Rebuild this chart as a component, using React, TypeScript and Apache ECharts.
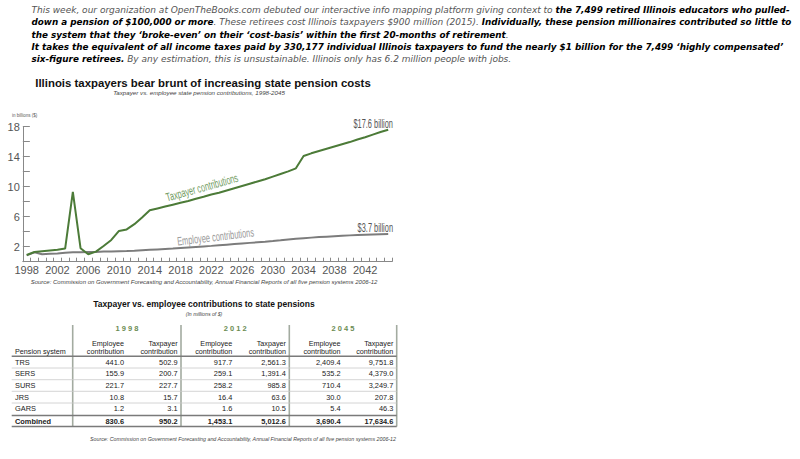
import React, { useEffect, useRef } from "react";
import * as echarts from "echarts";

// ---------- DATA ----------
const years: string[] = Array.from({ length: 48 }, (_, i) => String(1998 + i));
const taxpayerBillions = [
  0.9, 1.3, 1.4, 1.5, 1.6, 1.75, 9.3, 1.8, 1.0, 1.35, 2.1, 2.9, 4.1, 4.3, 5.0, 5.9,
  6.85, 7.1, 7.35, 7.6, 7.85, 8.1, 8.4, 8.65, 8.95, 9.2, 9.5, 9.8, 10.1, 10.4, 10.7, 11.0,
  11.35, 11.7, 12.05, 12.45, 14.1, 14.45, 14.75, 15.05, 15.35, 15.65, 15.95, 16.3, 16.6, 16.95, 17.3, 17.6,
];
const employeeBillions = [
  0.85, 1.25, 1.0, 1.05, 1.1, 1.2, 1.25, 1.25, 1.3, 1.3, 1.35, 1.35, 1.4, 1.42, 1.45, 1.52,
  1.58, 1.64, 1.7, 1.76, 1.83, 1.9, 1.97, 2.04, 2.11, 2.19, 2.27, 2.35, 2.43, 2.51, 2.59, 2.67,
  2.76, 2.86, 2.97, 3.07, 3.14, 3.21, 3.28, 3.34, 3.4, 3.46, 3.51, 3.56, 3.6, 3.64, 3.67, 3.69,
];
const yTickLabels = [2, 6, 10, 14, 18];

const tableSystems = ["TRS", "SERS", "SURS", "JRS", "GARS", "Combined"];
const tableYears = ["1998", "2012", "2045"];
const employee1998 = [441.0, 155.9, 221.7, 10.8, 1.2, 830.6];
const taxpayer1998 = [502.9, 200.7, 227.7, 15.7, 3.1, 950.2];
const employee2012 = [917.7, 259.1, 258.2, 16.4, 1.6, 1453.1];
const taxpayer2012 = [2561.3, 1391.4, 985.8, 63.6, 10.5, 5012.6];
const employee2045 = [2409.4, 535.2, 710.4, 30.0, 5.4, 3690.4];
const taxpayer2045 = [9751.8, 4379.0, 3249.7, 207.8, 46.3, 17634.6];

const paragraphLines: [string, string][][] = [
  [["n", "This week, our organization at OpenTheBooks.com debuted our interactive info mapping platform giving context to "], ["b", "the 7,499 retired Illinois educators who pulled-"]],
  [["b", "down a pension of $100,000 or more"], ["n", ". These retirees cost Illinois taxpayers $900 million (2015). "], ["b", "Individually, these pension millionaires contributed so little to"]],
  [["b", "the system that they \u2018broke-even\u2019 on their \u2018cost-basis\u2019 within the first 20-months of retirement"], ["n", "."]],
  [["b", "It takes the equivalent of all income taxes paid by 330,177 individual Illinois taxpayers to fund the nearly $1 billion for the 7,499 \u2018highly compensated\u2019"]],
  [["b", "six-figure retirees."], ["n", " By any estimation, this is unsustainable. Illinois only has 6.2 million people with jobs."]],
];

// ---------- STYLE ----------
const SANS = "'Liberation Sans', Arial, sans-serif";
const VERD = "'DejaVu Sans', Verdana, sans-serif";
const GREEN = "#4c7b38";
const GRAY = "#7c7c7c";

const fmt = (v: number) =>
  v.toLocaleString("en-US", { minimumFractionDigits: 1, maximumFractionDigits: 1 });

function buildGraphics() {
  const g: any[] = [];
  // paragraph
  paragraphLines.forEach((segs, i) => {
    g.push({
      type: "text",
      x: 31.5,
      y: 10 + i * 12.3,
      style: {
        text: segs.map(([k, t]) => `{${k}|${t}}`).join(""),
        textVerticalAlign: "middle",
        rich: {
          n: { fontFamily: VERD, fontSize: 9, fontStyle: "italic", fill: "#555" },
          b: { fontFamily: VERD, fontSize: 8.8, fontStyle: "italic", fontWeight: "bold", fill: "#000" },
        },
      },
    });
  });

  // chart titles
  g.push({
    type: "text", x: 203, y: 83,
    style: { text: "Illinois taxpayers bear brunt of increasing state pension costs", font: `bold 11.4px ${SANS}`, fill: "#111", textAlign: "center", textVerticalAlign: "middle" },
  });
  g.push({
    type: "text", x: 199, y: 92.5,
    style: { text: "Taxpayer vs. employee state pension contributions, 1998-2045", font: `italic 6.2px ${SANS}`, fill: "#444", textAlign: "center", textVerticalAlign: "middle" },
  });
  g.push({
    type: "text", x: 12, y: 115, scaleX: 0.75,
    style: { text: "in billions ($)", font: `6px ${SANS}`, fill: "#555", textVerticalAlign: "middle" },
  });
  g.push({
    type: "text", x: 393, y: 123, scaleX: 0.57,
    style: { text: "$17.6 billion", font: `13px ${SANS}`, fill: "#555", textAlign: "right", textVerticalAlign: "middle" },
  });
  g.push({
    type: "text", x: 393, y: 226.7, scaleX: 0.57,
    style: { text: "$3.7 billion", font: `13px ${SANS}`, fill: "#555", textAlign: "right", textVerticalAlign: "middle" },
  });
  g.push({
    type: "text", x: 202, y: 187.5, rotation: 0.275, scaleX: 0.62,
    style: { text: "Taxpayer contributions", font: `12px ${SANS}`, fill: "#6f9a5e", textAlign: "center", textVerticalAlign: "middle" },
  });
  g.push({
    type: "text", x: 215.5, y: 236.8, rotation: 0.12, scaleX: 0.62,
    style: { text: "Employee contributions", font: `12px ${SANS}`, fill: "#9a9a9a", textAlign: "center", textVerticalAlign: "middle" },
  });
  g.push({
    type: "text", x: 204, y: 282,
    style: { text: "Source: Commission on Government Forecasting and Accountability, Annual Financial Reports of all five pension systems 2006-12", font: `italic 6px ${SANS}`, fill: "#444", textAlign: "center", textVerticalAlign: "middle" },
  });

  // table
  const tLeft = 11.7;
  const tRight = 396.7;
  g.push({
    type: "text", x: 204, y: 304.3,
    style: { text: "Taxpayer vs. employee contributions to state pensions", font: `bold 8.5px ${SANS}`, fill: "#111", textAlign: "center", textVerticalAlign: "middle" },
  });
  g.push({
    type: "text", x: 204, y: 314,
    style: { text: "(In millions of $)", font: `italic 5.2px ${SANS}`, fill: "#444", textAlign: "center", textVerticalAlign: "middle" },
  });
  const sepX = [72.7, 181, 289.3, 396.7];
  sepX.forEach((x) => {
    g.push({ type: "line", shape: { x1: x, y1: 325, x2: x, y2: 426.5 }, style: { stroke: "#a3aba0", lineWidth: 1.6 } });
  });
  const hLines: [number, string, number][] = [
    [356.3, "#7a7a7a", 1.5],
    [368, "#c9c9c9", 0.8],
    [379.7, "#c9c9c9", 0.8],
    [391.3, "#c9c9c9", 0.8],
    [403, "#c9c9c9", 0.8],
    [415.5, "#7a7a7a", 1.5],
    [426.5, "#7a7a7a", 1.5],
  ];
  hLines.forEach(([y, c, w]) => {
    g.push({ type: "line", shape: { x1: tLeft, y1: y, x2: tRight, y2: y }, style: { stroke: c, lineWidth: w } });
  });
  tableYears.forEach((yr, i) => {
    g.push({
      type: "text", x: (sepX[i] + sepX[i + 1]) / 2, y: 328.5,
      style: { text: yr.split("").join(" "), font: `bold 7.5px ${SANS}`, fill: "#6b8c52", textAlign: "center", textVerticalAlign: "middle" },
    });
  });
  const colRights: number[] = [];
  for (let gi = 0; gi < 3; gi++) {
    colRights.push(sepX[gi] + 51.3, sepX[gi + 1] - 3.4);
  }
  const colHeads = ["Employee", "Taxpayer"];
  colRights.forEach((xr, ci) => {
    g.push({
      type: "text", x: xr, y: 343,
      style: { text: colHeads[ci % 2], font: `7.2px ${SANS}`, fill: "#222", textAlign: "right", textVerticalAlign: "middle" },
    });
    g.push({
      type: "text", x: xr, y: 351.3,
      style: { text: "contribution", font: `7.2px ${SANS}`, fill: "#222", textAlign: "right", textVerticalAlign: "middle" },
    });
  });
  g.push({
    type: "text", x: 15, y: 351.3,
    style: { text: "Pension system", font: `7.2px ${SANS}`, fill: "#222", textVerticalAlign: "middle" },
  });
  const cols = [employee1998, taxpayer1998, employee2012, taxpayer2012, employee2045, taxpayer2045];
  tableSystems.forEach((sys, ri) => {
    const y = 362.3 + ri * 11.6 + (ri === 5 ? 1 : 0);
    const bold = ri === 5 ? "bold " : "";
    g.push({
      type: "text", x: 15, y,
      style: { text: sys, font: `${bold}7.4px ${SANS}`, fill: "#222", textVerticalAlign: "middle" },
    });
    cols.forEach((col, ci) => {
      g.push({
        type: "text", x: colRights[ci], y,
        style: { text: fmt(col[ri]), font: `${bold}7.4px ${SANS}`, fill: "#222", textAlign: "right", textVerticalAlign: "middle" },
      });
    });
  });
  g.push({
    type: "text", x: 396, y: 439,
    style: { text: "Source: Commission on Government Forecasting and Accountability, Annual Financial Reports of all five pension systems 2006-12", font: `italic 5.3px ${SANS}`, fill: "#444", textAlign: "right", textVerticalAlign: "middle" },
  });
  return g;
}

export default function App() {
  const ref = useRef<HTMLDivElement>(null);
  useEffect(() => {
    if (!ref.current) return;
    const chart = echarts.init(ref.current, undefined, { renderer: "svg" });
    chart.setOption({
      animation: false,
      backgroundColor: "#fff",
      grid: { left: 22.85, width: 369.2, top: 126.7, height: 135 },
      xAxis: {
        type: "category",
        data: years,
        boundaryGap: true,
        axisLine: { show: true, lineStyle: { color: "#888", width: 1 } },
        axisTick: { show: true, inside: true, length: 4, interval: 0, lineStyle: { color: "#888" } },
        axisLabel: { interval: 3, fontFamily: SANS, fontSize: 11, color: "#555", margin: 3 },
        splitLine: { show: false },
      },
      yAxis: {
        type: "value",
        min: 0,
        max: 18,
        interval: 2,
        axisLine: { show: true, lineStyle: { color: "#888", width: 1 } },
        axisTick: { show: true, inside: true, length: 7, lineStyle: { color: "#888" } },
        axisLabel: {
          fontFamily: SANS,
          fontSize: 11,
          color: "#555",
          margin: 3,
          formatter: (v: number) => (yTickLabels.includes(v) ? String(v) : ""),
        },
        splitLine: { show: false },
      },
      series: [
        {
          name: "Employee contributions",
          type: "line",
          data: employeeBillions,
          symbol: "none",
          lineStyle: { color: GRAY, width: 2 },
          z: 2,
        },
        {
          name: "Taxpayer contributions",
          type: "line",
          data: taxpayerBillions,
          symbol: "none",
          lineStyle: { color: GREEN, width: 2 },
          z: 3,
        },
      ],
      graphic: buildGraphics(),
    });
    return () => chart.dispose();
  }, []);
  return (
    <div
      ref={ref}
      style={{ position: "fixed", left: 0, top: 0, width: 800, height: 459, background: "#fff" }}
    />
  );
}
